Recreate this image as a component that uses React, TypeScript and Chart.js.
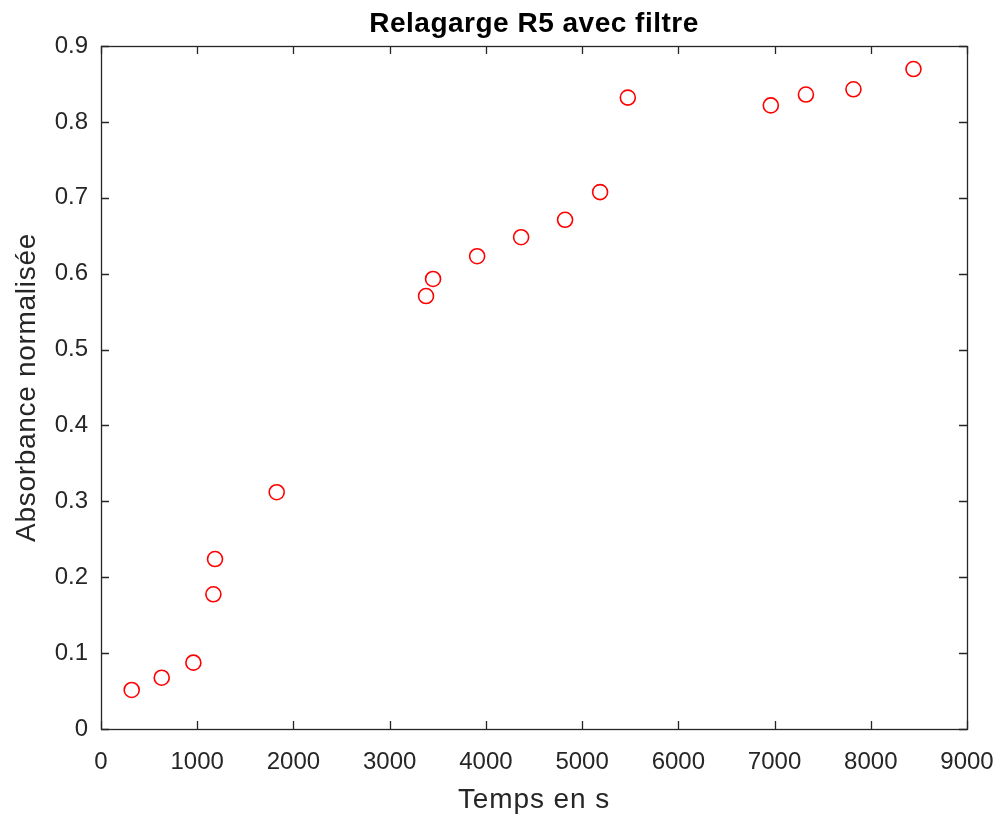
import React, { useEffect, useRef } from "react";
import { Chart, registerables } from "chart.js";

Chart.register(...registerables);

const timeSeconds = [319, 631, 960, 1168, 1185, 1826, 3378, 3451, 3909, 4366, 4823, 5187, 5475, 6961, 7326, 7820, 8444];
const absorbance = [0.0514, 0.0676, 0.0874, 0.1775, 0.224, 0.312, 0.5705, 0.593, 0.623, 0.648, 0.671, 0.7075, 0.832, 0.8217, 0.836, 0.843, 0.8696];
const xTickValues = [0, 1000, 2000, 3000, 4000, 5000, 6000, 7000, 8000, 9000];
const yTickValues = [0, 0.1, 0.2, 0.3, 0.4, 0.5, 0.6, 0.7, 0.8, 0.9];
const yTickLabels = ["0", "0.1", "0.2", "0.3", "0.4", "0.5", "0.6", "0.7", "0.8", "0.9"];
const chartTitle = "Relagarge R5 avec filtre";
const xAxisTitle = "Temps en s";
const yAxisTitle = "Absorbance normalisée";

const FONT = "'Liberation Sans', Arial, Helvetica, sans-serif";
const AXIS_COLOR = "#262626";

const matlabBox = {
  id: "matlabBox",
  afterDraw(chart: any) {
    const { ctx, chartArea } = chart;
    const { left, right, top, bottom } = chartArea;
    const xs = chart.scales.x;
    const ys = chart.scales.y;
    ctx.save();
    ctx.strokeStyle = AXIS_COLOR;
    ctx.lineWidth = 1.3;
    ctx.strokeRect(left + 0.5, top + 0.5, right - left, bottom - top);
    const tl = 8;
    ctx.beginPath();
    xTickValues.forEach((v) => {
      const px = Math.round(xs.getPixelForValue(v)) + 0.5;
      ctx.moveTo(px, bottom);
      ctx.lineTo(px, bottom - tl);
      ctx.moveTo(px, top);
      ctx.lineTo(px, top + tl);
    });
    yTickValues.forEach((v) => {
      const py = Math.round(ys.getPixelForValue(v)) + 0.5;
      ctx.moveTo(left, py);
      ctx.lineTo(left + tl, py);
      ctx.moveTo(right, py);
      ctx.lineTo(right - tl, py);
    });
    ctx.stroke();

    ctx.fillStyle = "#000";
    ctx.font = `bold 28px ${FONT}`;
    ctx.textAlign = "center";
    ctx.textBaseline = "alphabetic";
    (ctx as any).letterSpacing = "0.5px";
    ctx.fillText(chartTitle, (left + right) / 2, 32);

    ctx.fillStyle = AXIS_COLOR;
    ctx.font = `28px ${FONT}`;
    (ctx as any).letterSpacing = "0.9px";
    ctx.fillText(xAxisTitle, (left + right) / 2, 808);

    (ctx as any).letterSpacing = "0.7px";
    ctx.translate(35, (top + bottom) / 2);
    ctx.rotate(-Math.PI / 2);
    ctx.fillText(yAxisTitle, 0, 0);
    ctx.restore();
  },
};

export default function App() {
  const ref = useRef<HTMLCanvasElement>(null);
  useEffect(() => {
    if (!ref.current) return;
    const chart = new Chart(ref.current, {
      type: "scatter",
      data: {
        datasets: [
          {
            data: timeSeconds.map((x, i) => ({ x, y: absorbance[i] })),
            pointStyle: "circle",
            pointRadius: 7.5,
            pointBorderWidth: 1.6,
            pointBorderColor: "rgb(255, 0, 0)",
            pointBackgroundColor: "rgba(0,0,0,0)",
            showLine: false,
          },
        ],
      },
      options: {
        animation: false,
        responsive: false,
        layout: { padding: { top: 46, right: 36, left: 0, bottom: 0 } },
        plugins: { legend: { display: false }, tooltip: { enabled: false }, title: { display: false } },
        scales: {
          x: {
            type: "linear",
            min: 0,
            max: 9000,
            grid: { display: false, drawTicks: false },
            border: { display: false },
            afterBuildTicks: (s: any) => {
              s.ticks = xTickValues.map((v) => ({ value: v }));
            },
            afterFit: (s: any) => {
              s.height = 88;
              s.paddingLeft = 0;
              s.paddingRight = 0;
            },
            ticks: {
              padding: 19,
              color: AXIS_COLOR,
              font: { family: FONT, size: 24 },
              maxRotation: 0,
              callback: (v: any) => String(v),
            },
          },
          y: {
            type: "linear",
            min: 0,
            max: 0.9,
            grid: { display: false, drawTicks: false },
            border: { display: false },
            afterBuildTicks: (s: any) => {
              s.ticks = yTickValues.map((v) => ({ value: v }));
            },
            afterFit: (s: any) => {
              s.width = 101;
              s.paddingTop = 0;
              s.paddingBottom = 0;
            },
            ticks: {
              padding: 13,
              color: AXIS_COLOR,
              font: { family: FONT, size: 24 },
              callback: (v: any) => {
                const i = yTickValues.findIndex((t) => Math.abs(t - Number(v)) < 1e-9);
                return i >= 0 ? yTickLabels[i] : "";
              },
            },
          },
        },
      },
      plugins: [matlabBox],
    });
    return () => chart.destroy();
  }, []);
  return (
    <div style={{ position: "absolute", left: 0, top: 0, width: 1003, height: 817, background: "#fff" }}>
      <canvas ref={ref} width={1003} height={817} style={{ display: "block" }} />
    </div>
  );
}
